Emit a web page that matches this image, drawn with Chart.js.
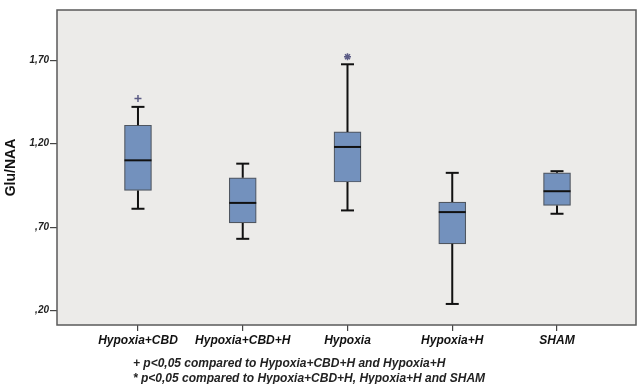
<!DOCTYPE html>
<html>
<head>
<meta charset="utf-8">
<script src="https://cdn.jsdelivr.net/npm/chart.js@4/dist/chart.umd.min.js"></script>
<style>
body { margin: 0; background: #fff; }
#wrap { position: relative; width: 637px; height: 384px; }
.note { position: absolute; left: 133px; font: italic bold 12px "Liberation Sans", Arial, sans-serif; color: #222; white-space: nowrap; }
</style>
</head>
<body>
<div id="wrap">
  <canvas id="myChart" width="637" height="384"></canvas>
  <div class="note" style="top:356px">+ p&lt;0,05 compared to Hypoxia+CBD+H and Hypoxia+H</div>
  <div class="note" style="top:371px">* p&lt;0,05 compared to Hypoxia+CBD+H, Hypoxia+H and SHAM</div>
</div>
<script>

var groups = ['Hypoxia+CBD', 'Hypoxia+CBD+H', 'Hypoxia', 'Hypoxia+H', 'SHAM'];
var whiskerLow = [0.81, 0.63, 0.80, 0.24, 0.78];
var q1 = [0.92, 0.725, 0.97, 0.60, 0.83];
var median = [1.10, 0.845, 1.18, 0.79, 0.915];
var q3 = [1.31, 0.995, 1.27, 0.85, 1.025];
var whiskerHigh = [1.42, 1.08, 1.675, 1.025, 1.035];

// significance marks above the whiskers
var markGroup = [0, 2];
var markValue = [1.47, 1.72];
var markStyle = ['cross', 'star'];

var yTickValues = [0.2, 0.7, 1.2, 1.7];
var yTickLabels = [',20', ',70', '1,20', '1,70'];

var boxData = groups.map(function (g, i) { return {x: i, y: [q1[i], q3[i]]}; });
var medianData = groups.map(function (g, i) { return {x: i, y: median[i]}; });

var whiskerData = [];
var capData = [];
groups.forEach(function (g, i) {
  whiskerData.push({x: i, y: q3[i]}, {x: i, y: whiskerHigh[i]}, {x: i, y: null});
  whiskerData.push({x: i, y: q1[i]}, {x: i, y: whiskerLow[i]}, {x: i, y: null});
  capData.push({x: i, y: whiskerHigh[i]}, {x: i, y: whiskerLow[i]});
});

var markData = markGroup.map(function (g, i) { return {x: g, y: markValue[i]}; });

/* grey plot background and frame */
var plotFrame = {
  id: 'plotFrame',
  beforeDraw: function (chart) {
    var a = chart.chartArea, ctx = chart.ctx;
    ctx.save();
    ctx.fillStyle = '#ecebe9';
    ctx.fillRect(a.left, a.top, a.right - a.left, a.bottom - a.top);
    ctx.restore();
  },
  afterDraw: function (chart) {
    var a = chart.chartArea, ctx = chart.ctx;
    ctx.save();
    ctx.strokeStyle = '#5a5a5a';
    ctx.lineWidth = 1.5;
    ctx.strokeRect(a.left, a.top, a.right - a.left, a.bottom - a.top);
    ctx.restore();
  }
};

function noPad(s) {
  s.paddingTop = 0;
  s.paddingBottom = 0;
  s.paddingLeft = 0;
  s.paddingRight = 0;
}

var ctx = document.getElementById('myChart').getContext('2d');
var chart = new Chart(ctx, {
  type: 'bar',
  data: {
    datasets: [{
      type: 'scatter',
      data: medianData,
      pointStyle: 'line',
      pointRadius: 13.5,
      borderColor: '#111',
      borderWidth: 2,
      order: 0
    }, {
      type: 'scatter',
      data: markData,
      pointStyle: markStyle,
      pointRadius: 3.5,
      borderColor: '#5b5b85',
      borderWidth: 1.5,
      order: 0
    }, {
      type: 'scatter',
      data: capData,
      pointStyle: 'line',
      pointRadius: 6.5,
      borderColor: '#111',
      borderWidth: 2,
      order: 1
    }, {
      type: 'scatter',
      data: whiskerData,
      showLine: true,
      spanGaps: false,
      pointRadius: 0,
      borderColor: '#111',
      borderWidth: 2,
      order: 2
    }, {
      type: 'bar',
      data: boxData,
      backgroundColor: '#7391bd',
      borderColor: '#4f5660',
      borderWidth: 1.2,
      borderSkipped: false,
      barThickness: 27,
      grouped: false,
      order: 3
    }]
  },
  options: {
    responsive: false,
    animation: false,
    layout: { autoPadding: false, padding: {top: 10, right: 1, left: 0, bottom: 0} },
    plugins: { legend: { display: false }, tooltip: { enabled: false } },
    scales: {
      x: {
        type: 'linear',
        offset: false,
        min: -0.773,
        max: 4.754,
        afterFit: function (s) { s.height = 59; noPad(s); },
        afterBuildTicks: function (s) { s.ticks = groups.map(function (g, i) { return {value: i}; }); },
        grid: { offset: false, drawOnChartArea: false, drawTicks: true, tickLength: 6, color: '#444', lineWidth: 1.2 },
        border: { display: false },
        ticks: {
          padding: 2,
          color: '#111',
          font: { family: '"Liberation Sans", Arial, sans-serif', size: 12, style: 'italic', weight: 'bold' },
          callback: function (v) { return groups[v]; }
        }
      },
      y: {
        min: 0.114,
        max: 2.0,
        afterFit: function (s) { s.width = 57; noPad(s); },
        afterBuildTicks: function (s) { s.ticks = yTickValues.map(function (v) { return {value: v}; }); },
        grid: { drawOnChartArea: false, drawTicks: true, tickLength: 7, color: '#444', lineWidth: 1.2 },
        border: { display: false },
        ticks: {
          padding: 1,
          color: '#222',
          font: { family: '"Liberation Sans", Arial, sans-serif', size: 10, style: 'italic', weight: 'bold' },
          callback: function (v) { return yTickLabels[yTickValues.indexOf(v)]; }
        },
        title: {
          display: true,
          text: 'Glu/NAA',
          color: '#111',
          padding: {top: 3, bottom: 0},
          font: { family: '"Liberation Sans", Arial, sans-serif', size: 14, weight: 'bold' }
        }
      }
    }
  },
  plugins: [plotFrame]
});
</script>
</body>
</html>
